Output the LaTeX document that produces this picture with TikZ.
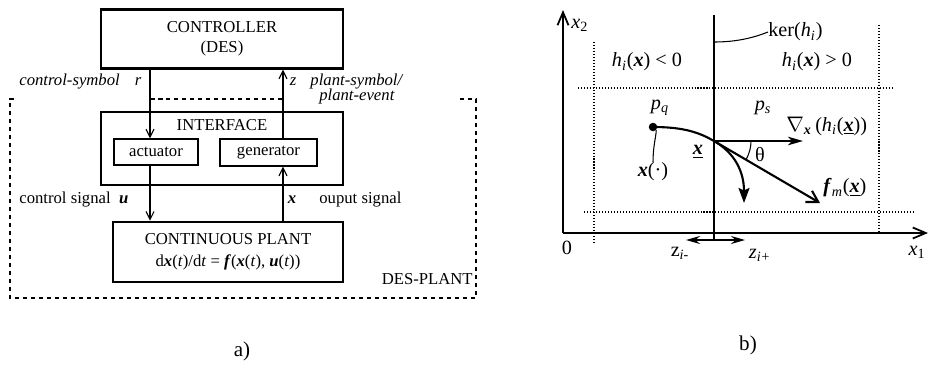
\documentclass[tikz,border=0pt]{standalone}
\usepackage{fontspec}
\setmainfont{Liberation Serif}
\usetikzlibrary{arrows.meta,calc,positioning}
\newcommand{\vecx}{\textbf{\textit{x}}}
\newcommand{\ulx}{\underline{\vecx}}
\tikzset{
  des diagram/.style={font=\fontsize{9.5}{11.4}\selectfont,
    line join=miter, x=0.02cm, y=-0.02cm},
  des block/.style={draw, line width=1.6pt, align=center, inner sep=0pt},
  des unit/.style={draw, line width=0.8pt, inner sep=0pt},
  des arrow/.style={-{Straight Barb[length=1.6mm,width=1.6mm]}, line width=0.6pt},
  des frame/.style={line width=0.9pt, dash pattern=on 0.9mm off 0.7mm},
  des label/.style={inner sep=0pt},
  des caption/.style={inner sep=0pt, font=\fontsize{12}{14}\selectfont},
  ax label/.style={inner sep=0pt, font=\fontsize{11.5}{13}\selectfont},
  ax axis/.style={-{Straight Barb[length=2.6mm,width=2.2mm]}, line width=1pt},
  ax thin/.style={line width=0.6pt},
  ax grid/.style={line width=0.6pt, dash pattern=on 0.6pt off 1.1pt},
  ax vector/.style={-{Stealth[length=3mm,width=1.7mm,inset=0.8mm]}, line width=1.2pt},
  ax force/.style={-{Straight Barb[length=2.2mm,width=2.6mm]}, line width=1.2pt},
  ax traj/.style={-{Stealth[length=3mm,width=2.2mm,inset=0.5mm]}, line width=1.2pt},
  ax span/.style={{Stealth[length=2.8mm,width=1.6mm]}-{Stealth[length=2.8mm,width=1.6mm]}, line width=1pt}
}
\begin{document}
\begin{tikzpicture}[des diagram]
\useasboundingbox (0,0) rectangle (928,365);
\coordinate (rx) at (150,0);
\coordinate (zx) at (283,0);
\node[des block, minimum width=4.84cm, minimum height=1.18cm] (ctrl) at (222,38.8) {CONTROLLER\\(DES)};
\node[des block, minimum width=4.84cm, minimum height=1.46cm] (iface) at (222,148.5) {};
\node[des label] (ifacename) at (222,125) {INTERFACE};
\node[des unit, minimum width=1.68cm, minimum height=0.52cm] (act) at (156,152) {actuator};
\node[des unit, minimum width=1.94cm, minimum height=0.54cm] (gen) at (268.5,152.5) {generator};
\node[des block, minimum width=4.6cm, minimum height=1.2cm] (plant) at (228,252)
  {CONTINUOUS PLANT\\[1pt]d\vecx(\textit{t})/d\textit{t} = \textbf{\textit{f}}(\vecx(\textit{t}), \textbf{\textit{u}}(\textit{t}))};
\draw[des arrow] (ctrl.south -| rx) -- (act.north -| rx);
\draw[des arrow] (gen.north -| zx) -- (ctrl.south -| zx);
\draw[des arrow] (act.south -| rx) -- (plant.north -| rx);
\draw[des arrow] (plant.north -| zx) -- (gen.south -| zx);
\node[des label, anchor=west] (rlabel) at (19,82) {\textit{control-symbol}\hspace{0.9em}\textit{r}};
\node[des label] (zlabel) at (293,82) {\textit{z}};
\node[des label, align=center] (zsym) at (357,89) {\textit{plant-symbol/}\\[-3pt]\textit{plant-event}};
\node[des label, anchor=west] (ulabel) at (19,200) {control signal\hspace{0.5em}\textbf{\textit{u}}};
\node[des label] (xlabel) at (292,200) {\vecx};
\node[des label, anchor=west] (ylabel) at (319,200) {ouput signal};
\coordinate (frameNW) at (10,99);
\coordinate (frameSW) at (10,298);
\coordinate (frameSE) at (476,298);
\coordinate (frameNE) at (476,99);
\draw[des frame] ($(frameNW)+(4,0)$) -- (frameNW) -- (frameSW) -- (frameSE) -- (frameNE) -- ($(frameNE)+(-16,0)$);
\draw[des frame] (frameNW -| rx) -- (frameNW -| zx);
\node[des label, anchor=east] (desplant) at (473,279) {DES-PLANT};
\node[des caption] (acap) at (242,351) {a)};
\coordinate (origin) at (563,233);
\coordinate (yend) at (563,10);
\coordinate (xend) at (928,233);
\draw[ax axis] (origin) -- (yend);
\draw[ax axis] (origin) -- (xend);
\node[ax label, anchor=west] (x2) at (571,25) {\textit{x}\textsubscript{2}};
\node[ax label] (zero) at (567,248) {0};
\node[ax label] (x1) at (917,252) {\textit{x}\textsubscript{1}};
\draw[ax grid] (594,42) -- (594,243);
\draw[ax grid] (879,25) -- (879,233);
\draw[ax grid] (578,88) -- (893,88);
\draw[ax grid] (584,212) -- (913,212);
\coordinate (kertop) at (714,15);
\coordinate (kerbot) at (714,240);
\coordinate (kerfoot) at (714,42);
\draw[ax thin] (kertop) -- (kerbot);
\node[ax label, anchor=west] (ker) at (768,32) {ker(\textit{h}\textsubscript{\textit{i}})};
\draw[ax thin] (ker.west) .. controls (748,40) and (730,42) .. (kerfoot);
\node[ax label] (neg) at (647,62) {\textit{h}\textsubscript{\textit{i}}(\vecx) < 0};
\node[ax label] (pos) at (817,62) {\textit{h}\textsubscript{\textit{i}}(\vecx) > 0};
\node[ax label] (pq) at (660,108) {\textit{p}\textsubscript{\textit{q}}};
\node[ax label] (ps) at (763,108) {\textit{p}\textsubscript{\textit{s}}};
\node[circle, fill, inner sep=0pt, minimum size=1.7mm] (pqdot) at (653,127) {};
\coordinate (xpt) at (714,141);
\coordinate (gradend) at (803,141);
\coordinate (fmend) at (820,203);
\coordinate (trajend) at (744,203);
\draw[ax vector] (xpt) -- (gradend);
\draw[ax force] (xpt) -- (fmend);
\draw[ax traj] (pqdot.center) .. controls (685,127) and (700,133) .. (xpt)
  .. controls (735,153) and (744,172) .. (trajend);
\draw[ax thin] ($(xpt)+(37,0)$) arc[start angle=0, end angle=30, radius=37];
\node[ax label, anchor=west] (grad) at (786,126) {$\nabla$\textsubscript{\vecx}\,(\textit{h}\textsubscript{\textit{i}}(\ulx))};
\node[ax label] (xbar) at (698,152) {\ulx};
\node[ax label] (theta) at (760,155) {θ};
\node[ax label] (traj) at (653,172) {\vecx(·)};
\draw[ax thin] (pqdot.south east) .. controls (656,137) and (653,146) .. (traj.north);
\node[ax label, anchor=west] (fm) at (823,188) {\textbf{\textit{f}}\textsubscript{\textit{m}}(\ulx)};
\coordinate (zleft) at (686,240);
\coordinate (zright) at (745,240);
\draw[ax span] (zleft) -- (zright);
\node[ax label] (zminus) at (680,253) {z\textsubscript{\textit{i-}}};
\node[ax label] (zplus) at (760,255) {\textit{z}\textsubscript{\textit{i+}}};
\node[des caption] (bcap) at (748,345) {b)};
\end{tikzpicture}
\end{document}
